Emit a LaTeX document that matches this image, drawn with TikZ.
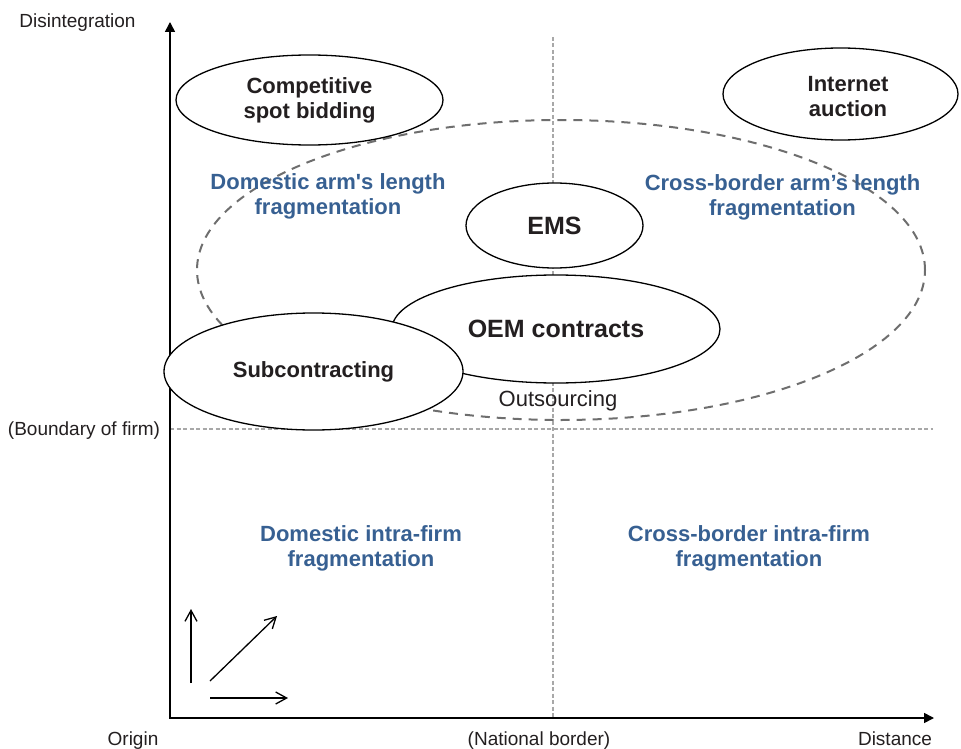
\documentclass[tikz,border=0pt]{standalone}
\usepackage{fontspec}
\setmainfont{Liberation Sans}
\usetikzlibrary{arrows.meta,shapes.geometric}
\definecolor{txt}{HTML}{231F20}
\definecolor{blu}{HTML}{376092}
\definecolor{dgray}{HTML}{6E6E6E}
\definecolor{lgray}{HTML}{A8A8A8}
\font\aposfont="Liberation Sans/B" at 22pt
\begin{document}
\begin{tikzpicture}[x=1pt,y=-1pt,
  axis/.style={line width=1.6pt, {Triangle[length=10pt,width=10pt]}-{Triangle[length=10pt,width=10pt]}},
  guide/.style={draw=lgray, line width=1.1pt, dash pattern=on 4pt off 2.5pt},
  outline/.style={ellipse, draw=dgray, line width=2pt, dash pattern=on 9pt off 7pt, inner sep=0pt},
  bubble/.style={ellipse, draw=black, line width=1.3pt, fill=white, inner sep=0pt, text=txt,
    font=\fontsize{22}{25}\selectfont\bfseries, align=center},
  bigbubble/.style={bubble, font=\fontsize{25}{28}\selectfont\bfseries},
  bubtext/.style={text=txt, font=\fontsize{22}{25}\selectfont\bfseries, align=center, inner sep=0pt},
  region/.style={text=blu, font=\fontsize{22}{25}\selectfont\bfseries, align=center, inner sep=0pt},
  axlabel/.style={text=txt, font=\fontsize{19}{22}\selectfont, anchor=base, inner sep=0pt},
  plainlabel/.style={text=txt, font=\fontsize{22}{25}\selectfont, anchor=base, inner sep=0pt},
  smallarrow/.style={line width=1.3pt, -{Straight Barb[length=11pt,width=12pt]}}
]
\useasboundingbox (0,0) rectangle (961,749);
% guide lines
\coordinate (ntop) at (553,37);
\coordinate (nbot) at (553,718);
\coordinate (bl) at (170,429);
\coordinate (br) at (933,429);
\draw[guide] (ntop) -- (nbot);
\draw[guide] (bl) -- (br);
% axes
\coordinate (O) at (170,718);
\coordinate (ytip) at (170,22);
\coordinate (xtip) at (934,718);
\draw[axis] (ytip) -- (O) -- (xtip);
% outsourcing region
\node[outline, minimum width=728, minimum height=300] (outs) at (561,270) {};
\node[plainlabel] (outl) at (558,406) {Outsourcing};
% region labels
\node[region] (dal) at (328,196.8) {Domestic arm{\aposfont'}s length\\fragmentation};
\node[region] (cal) at (782.5,197.8) {Cross-border arm’s length\\fragmentation};
\node[region] (dif) at (361,548.8) {Domestic intra-firm\\fragmentation};
\node[region] (cif) at (749,548.8) {Cross-border intra-firm\\fragmentation};
% ellipses
\node[bubble, minimum width=267, minimum height=90] (csb) at (309.5,100) {Competitive\\spot bidding};
\node[bubble, minimum width=235, minimum height=92] (ia) at (840.5,94) {};
\node[bubtext] (iat) at (848,96.5) {Internet\\auction};
\node[bigbubble, minimum width=177, minimum height=85] (ems) at (554.5,225.5) {EMS};
\node[bigbubble, minimum width=328, minimum height=108] (oem) at (556,329) {OEM contracts};
\node[bubble, minimum width=299, minimum height=117] (sub) at (313.5,371.5) {Subcontracting};
% axis labels
\node[axlabel] (dis) at (77.5,28) {Disintegration};
\node[axlabel] (org) at (133,745) {Origin};
\node[axlabel] (nat) at (539,745) {(National border)};
\node[axlabel] (dst) at (895,745) {Distance};
\node[axlabel] (bnd) at (84,435) {(Boundary of firm)};
% small arrows
\coordinate (a1s) at (191,683);
\coordinate (a1e) at (191,609);
\coordinate (a2s) at (210,681);
\coordinate (a2e) at (277,616);
\coordinate (a3s) at (210,698);
\coordinate (a3e) at (288,698);
\draw[smallarrow] (a1s) -- (a1e);
\draw[smallarrow] (a2s) -- (a2e);
\draw[smallarrow] (a3s) -- (a3e);
\end{tikzpicture}
\end{document}
